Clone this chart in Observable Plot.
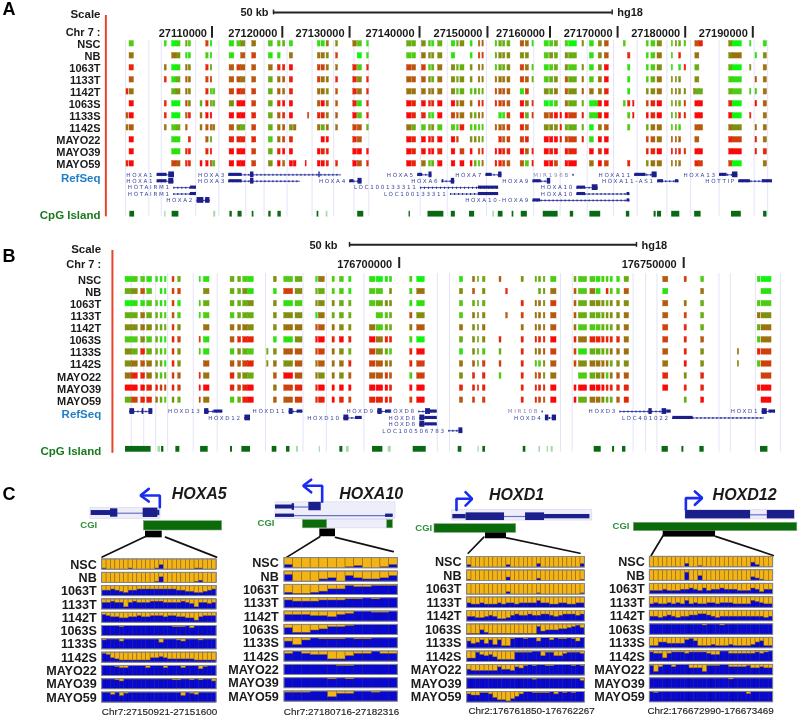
<!DOCTYPE html>
<html><head><meta charset="utf-8">
<script src="https://cdn.jsdelivr.net/npm/d3@7"></script>
<script src="https://cdn.jsdelivr.net/npm/@observablehq/plot@0.6"></script>
<style>
html,body{margin:0;padding:0;background:#fff}
#page{position:relative;width:800px;height:718px;overflow:hidden}
.gene text{letter-spacing:1.7px}
</style></head><body><div id="page"></div>
<script>
const samples=["NSC","NB","1063T","1133T","1142T","1063S","1133S","1142S","MAYO22","MAYO39","MAYO59"];

// Panel A: genomic positions in kb (chr7)
const ticksA=[27110,27120,27130,27140,27150,27160,27170,27180,27190];
const tickPosA=[27110,27120.4,27130.35,27140.7,27150.75,27160,27170,27180,27190];
const gridA=[27097.2,27100.66,27102.5,27107.6,27111,27115,27117.7,27121.1,27124.8,27128,27131,27133.2,27140.8,27144.8,27150.6,27157.6,27161.5,27165.5,27169.4,27172.9,27177.3,27180.8,27185,27190.2,27192.2];
const lociA=[[27097.35,27097.65],[27097.8,27098.45],[27103,27103.3],[27104.1,27104.75],[27104.75,27105.35],[27106.15,27106.4],[27106.55,27106.9],[27108.3,27108.6],[27109.15,27109.5],[27109.8,27110.05],[27110.15,27110.5],[27112.6,27113.3],[27113.75,27114.3],[27114.3,27114.95],[27115.95,27116.55],[27118.4,27119],[27119.75,27120.15],[27120.5,27120.85],[27121.5,27122],[27122.1,27122.5],[27123.85,27124],[27124.2,27124.4],[27125.65,27126.05],[27126.2,27126.7],[27126.95,27127.3],[27128.35,27128.65],[27130.9,27131.45],[27131.55,27132.2],[27132.95,27133.2],
[27138.85,27139.55],[27139.65,27140.2],[27141.05,27141.65],[27142.1,27142.4],[27142.55,27142.9],[27143.45,27144.1],[27145.45,27146],[27146.25,27146.5],[27146.75,27147.35],[27148.25,27148.55],[27148.85,27149.15],[27149.45,27149.7],[27150,27150.2],[27151.95,27152.2],[27152.5,27152.9],[27153.05,27153.4],[27153.7,27154.15],[27155.65,27156.2],[27156.4,27156.9],[27157.4,27157.6],[27159.2,27159.85],[27160,27160.5],[27160.7,27161.2],[27161.55,27161.8],[27162.3,27162.7],[27162.8,27164],[27164.8,27165.05],[27165.9,27166.5],[27166.5,27167.2],[27167.2,27167.7],[27168.1,27168.7],[27170.9,27171.2],[27171.55,27171.9],[27172.3,27172.5],[27174.3,27174.6],[27175,27175.6],[27175.9,27176.6],[27178,27178.2],[27178.6,27178.8],[27179.1,27179.4],[27179.9,27180.15],[27181.3,27181.5],[27181.5,27182.1],[27182.1,27182.65],[27186.5,27187],[27187,27188.4],[27189.6,27189.8],[27190.4,27190.65],[27191.6,27192.1]];
// methylation level per locus, 0 (green) to 9 (red), "." = no data
const methA=[
".2 1 01 32 . 71. 1 24 5 2 23 1. .. 115 4 52 1 33 4 21 3 134 1.56 2333 651 123. 20 4 1.46 2.. 224 2432 .68 40 1.1",
".5 . 54 11 . 21. 1 .6 7 1 1. 5. .. 554 7 .0 1 22 5 44 4 1.. 1.77 3444 44. 243. 43 . 1.46 .8. 125 2.8. .5. 45 .14",
".8 5 01 54 . 83. 6 76 6 5 88 9. .. 775 5 82 8 76 7 23 5 433 4.55 2334 752 123. 42 4 1.49 .1. 124 1.18 .3. 30 4.5",
".6 8 13 65 . 77. 6 65 6 3 56 8. .. 755 8 84 8 66 6 43 5 434 4.55 5555 763 234. 63 5 2.59 .1. 235 444. .4. 21 .65",
"85 . 34 54 . 822 7 87 7 3 65 8. .. 554 6 85 8 55 5 55 5 423 2333 7666 17. 435. 64 6 5.58 .1. 445 4544 533 32 225",
".9 8 00 74 3 833 4 99 7 3 89 9. .. 695 6 81 8 98 9 88 9 955 5.88 8776 957 002. 53 3 0199 289 789 3437 .99 80 .96",
"69 8 00 68 5 99. 9 99 8 3 68 9. .7 885 6 92 8 98 8 21 9 765 4355 .117 937 6799 97 8 1199 .29 989 3388 .99 90 8.5",
"56 5 23 6. 5 665 6 43 7 3 56 45 .. 535 5 76 3 53 2 34 2 228 2222 6667 86. 4448 33 3 0.56 .2. 355 232. .66 54 .55",
".9 . 11 .8 . 63. 8 88 8 2 57 8. .. .99 . 86 . 98 9 98 9 97. 4443 .867 78. 9998 77 8 1.99 ... 765 666. .6. 87 .85",
".9 . 11 88 . 88. 9 99 7 3 89 9. .. 988 . 99 9 98 9 99 8 9.7 9.78 9988 968 989. 98 . 9.89 ... 889 9888 .99 99 .88",
"89 . 76 88 9 963 9 99 7 4 95 99 9. 998 8 96 8 98 5 23 9 9.9 9325 9876 628 997. 99 . 5.97 .8. 455 555. .87 70 ..5"];
const genesA=[["HOXA1",0,27101.9,27104.45],["HOXA3",0,27112.5,27129.1],["HOXA5",0,27140.45,27142.55],["HOXA7",0,27150.55,27152.9],["MIR196B",0,27163.4,27163.6],["HOXA11",0,27172.55,27175.85],["HOXA13",0,27185.1,27187.8],
["HOXA1",1,27101.9,27104.35],["HOXA3",1,27112.5,27123.1],["HOXA4",1,27130.4,27132.2],["HOXA6",1,27144.05,27145.9],["HOXA9",1,27157.5,27160.1],["HOXA11-AS1",1,27175.95,27179.05],["HOTTIP",1,27187.95,27192.9],
["HOTAIRM1",2,27104.35,27107.7],["LOC100133311",2,27140.85,27152.4],["HOXA10",2,27164,27167.1],
["HOTAIRM1",3,27104.35,27107.7],["LOC100133311",3,27145.3,27152.4],["HOXA10",3,27164,27171.8],
["HOXA2",4,27107.8,27109.7],["HOXA10-HOXA9",4,27157.5,27171.8]];
const exonsA=[[0,27101.9,27103.35,0],[0,27103.6,27104.45,1],[0,27112.5,27114.45,0],[0,27115.7,27116.2,1],[0,27125.8,27126,1],[0,27140.45,27141.15,0],[0,27142.1,27142.55,1],[0,27150.55,27151.45,0],[0,27152.4,27152.9,1],[0,27172.55,27174.2,0],[0,27175.1,27175.85,1],[0,27185.1,27186.2,0],[0,27187,27187.8,1],
[1,27101.9,27103.35,0],[1,27103.6,27104.35,1],[1,27112.5,27114.45,0],[1,27115.7,27116.2,1],[1,27130.4,27131,0],[1,27131.6,27132.2,1],[1,27144.05,27144.3,0],[1,27145.4,27145.9,1],[1,27157.5,27158.7,0],[1,27159.6,27160.1,1],[1,27175.95,27176.8,0],[1,27178.55,27179.05,0],[1,27187.95,27189.65,0],[1,27191.4,27192.9,0],
[2,27106.8,27107.7,0],[2,27149.4,27152.4,0],[2,27164,27165.25,0],[2,27166.25,27167.1,1],
[3,27106.8,27107.7,0],[3,27149.4,27152.4,0],[3,27164,27165.25,0],[3,27171.4,27171.8,0],
[4,27107.8,27108.8,1],[4,27109.05,27109.7,1],[4,27157.5,27158.6,0],[4,27171.4,27171.8,0]];
const cpgA=[[27097.85,27098.55,1],[27103,27103.2,0],[27104.1,27105.1,1],[27110.25,27110.55,0],[27112.65,27113,1],[27113.85,27114.45,1],[27115.95,27116.2,1],[27118.4,27118.75,1],[27119.75,27120.25,1],[27125.55,27125.8,1],[27126.9,27127.15,0],[27131.55,27132.45,1],[27139.15,27139.35,1],[27141.95,27144.3,1],[27145.4,27146,1],[27148.1,27148.85,1],[27151.55,27151.8,0],[27152.35,27153.05,1],[27154.4,27154.65,1],[27155.75,27156.65,1],[27159,27161.2,1],[27163,27163.5,1],[27165.9,27167.5,1],[27171.3,27171.8,1],[27175.4,27175.7,1],[27175.9,27176.5,1],[27178,27179.2,1],[27181.4,27182.35,1],[27186.85,27188.3,1],[27191.6,27192.1,1]];

// Panel B: kb relative to 176,700,000
const ticksB=[0,50];
const gridB=[-47.1,-44.9,-42.8,-40.7,-36.2,-32,-23.5,-16.9,-12.8,-6.2,6.7,8.85,28.35,30.4,41.1,43.3,45.3,56.2,58.2,62.6,67];
const lociB=[[-48.1,-46.92],[-46.92,-45.93],[-45.34,-44.64],[-44.29,-43.41],[-42.71,-42.36],[-41.95,-41.59],[-41.18,-40.89],[-39.84,-39.48],[-38.84,-38.37],[-35.09,-34.86],[-34.33,-33.33],[-29.64,-28.94],[-28.3,-27.77],[-27.42,-26.6],[-26.6,-25.54],[-23.2,-22.96],[-22.03,-21.5],[-20.21,-18.63],[-18.22,-16.99],[-14.59,-14.29],[-14.12,-13.06],[-11.72,-11.31],[-10.43,-9.72],[-8.79,-8.38],[-5.16,-4.16],[-3.98,-2.81],[-2.4,-1.93],[-1.64,-1.23],[1.93,2.34],[3.16,4.51],[10.66,11.25],[12.95,13.36],[13.83,14.06],[14.7,15.17],[17.63,17.98],[18.8,19.1],[21.5,21.9],[23.96,24.25],[24.55,24.96],[25.4,25.7],[26.7,27.65],[30.8,31.17],[31.57,33.04],[33.6,34.5],[34.68,35.4],[35.68,36.1],[36.44,36.8],[37.14,37.55],[38.3,38.8],[39.6,40.4],[46.4,47.3],[50.15,50.56],[53.07,53.6],[59.5,59.75],[63,63.5],[63.67,65.44]];
const methB=[
"12 21 111 73 11 3 3 21 . 4 23 15 2 2 1 10 11 2 0 1 533 6 . 4 333 2 3 2 2 1221 1 3 6 7 2 . 1 0",
"34 62 .11 77 .4 3 3 41 . 1 74 33 2 2 1 22 .4 2 5 4 6.4 . 8 . .34 5 6 2 5 1.82 2 6 1 . 5 . . 1",
"01 12 211 71 23 3 3 34 . 4 12 44 4 3 3 23 44 1 1 2 333 . . 8 554 7 6 3 4 4434 4 4 6 5 3 . 2 2",
"33 53 322 62 12 2 3 33 . 4 44 15 3 3 3 .2 23 6 4 2 544 . 6 7 555 6 6 3 3 3344 4 5 6 7 3 . 5 4",
"44 54 433 74 .5 5 5 54 . 4 55 76 5 4 4 52 33 5 6 5 445 . . 5 555 6 5 2 2 2333 4 5 7 8 3 . 3 5",
"22 42 311 87 71 6 8 88 . 1 14 99 8 9 8 95 88 2 0 3 434 8 . 8 888 9 8 5 8 8888 8 5 7 8 6 . 2 5",
"43 83 322 74 21 2 4 32 3 4 66 77 5 4 3 74 32 8 9 1 432 3 . 8 557 7 7 1 3 3335 5 5 6 8 4 5 8 7",
"45 65 431 84 .6 6 6 78 4 5 46 56 5 5 8 76 55 8 7 5 637 7 . 8 224 6 7 4 5 5553 4 4 5 9 4 4 2 7",
"58 85 423 76 85 8 4 43 . 6 96 54 5 4 6 66 76 2 7 4 8.8 2 . 8 674 5 . 2 3 4525 6 6 8 4 8 . . 7",
"99 98 877 87 99 8 7 89 . 5 78 89 9 9 9 99 98 9 9 8 888 . . 8 888 9 9 9 9 9988 8 8 9 8 8 . 8 9",
"37 88 532 43 75 2 3 89 . 6 67 88 9 8 7 88 88 7 9 6 7.7 . . 8 876 9 9 3 5 5433 6 8 . 3 9 . . 9"];
const genesB=[["",0,-47.33,-43.3],["HOXD13",0,-34.2,-31],["HOXD12",1,-27.12,-26.13],["HOXD11",0,-19.33,-16.93],["HOXD10",1,-9.72,-6.5],["HOXD9",0,-3.75,-1.41],["HOXD8",0,3.46,6.68],["HOXD8",1,3.63,6.68],["HOXD8",2,3.63,6.68],["LOC100506783",3,8.73,11.19],["MIR10B",0,25.13,25.3],["HOXD4",1,25.7,27.65],["HOXD3",0,38.8,47.8],["LOC401022",1,48.1,64.2],["HOXD1",0,63.8,66.14]];
const exonsB=[[0,-47.33,-46.5,1],[0,-45.17,-44.87,1],[0,-44,-43.3,1],[0,-34.2,-33.45,1],[0,-32.57,-31,0],[1,-27.12,-26.13,1],[0,-19.33,-18.63,1],[0,-17.93,-16.93,0],[1,-9.72,-8.85,1],[1,-7.67,-6.5,0],[0,-3.75,-2.99,1],[0,-2.4,-1.41,0],[0,4.63,5.5,1],[0,5.5,6.68,0],[1,3.63,4.5,1],[1,4.5,6.68,0],[2,3.63,4.5,1],[2,4.5,6.68,0],[3,10.49,11.19,1],[1,25.7,26.3,1],[1,26.9,27.65,1],[0,43.88,44.47,1],[0,46.2,47,1],[0,47,47.8,0],[1,48.1,51.67,0],[0,63.8,64.68,1],[0,64.97,66.14,0]];
const cpgB=[[-48.1,-43.6,1],[-42.4,-41.95,0],[-41.77,-41.36,1],[-39.25,-38.55,1],[-34.9,-33.57,1],[-29.64,-29.3,1],[-27.65,-26.13,1],[-22.32,-21.5,1],[-19.8,-19.2,1],[-18.04,-17.7,0],[-14.06,-13.83,0],[-10.43,-9.9,1],[-9.26,-8.79,0],[-4.69,-2.87,1],[-1.93,-1.4,0],[2.46,4.75,1],[10.37,11.01,1],[13.83,14.06,0],[14.7,15.17,1],[21.8,22.26,1],[24.55,24.84,0],[26,26.25,0],[26.7,27.07,0],[34.27,35.5,1],[37.5,37.85,1],[39.25,39.84,1],[46.2,47.3,1],[49.68,50.03,1],[52.84,53.6,1],[63.5,64.8,1]];

// Panel C: per-site methylation level, 0 (blue) to 9 (all orange)
const sitesHOXA5=["89999989999985999999988999","99999999999984999999987999","44345644333333333445566543","33233732333222333323473343","23445544344333433445574333","00001000000000001110200000","10002000000003000120001000","12567777777554566666677777","00012200002000200020003100","00012000000000001100101002","00203100000000000030120000"];
const sitesHOXA10=["6999999879986","3999769467764","7887644122111","2333222110100","3334453200110","3775422100000","3620111011000","2023377422022","0000001100000","0000010100000","1110052200100"];
const sitesHOXD1=["799999999799999969999999996","899999999699999979999999998","999999999799999989999999998","566566656556555535566556655","556654577643443443345433343","888578888888888826555443213","354252627710010030020110130","661343577771111004114421112","455555524452310100110000101","000000000000000100000000002","233112577864200111102010100"];
const sitesHOXD12=["9999999969989999999999957999","9999999929959999999999967899","6665666554564655455566645755","6566565636566556555666634566","5565456554433456555555555565","0000000000001000100000000000","7744555521377767776777764377","1226211121111233002222221210","1620020003336111002222133233","0000000000000000001000000000","0100000000000000000000200000"];
const rangesC=["Chr7:27150921-27151600","Chr7:27180716-27182316","Chr2:176761850-176762267","Chr2:176672990-176673469"];
const titlesC=["HOXA5","HOXA10","HOXD1","HOXD12"];

const FONT="'Liberation Sans',Arial,sans-serif", NAVY="#1a1f8c", GRID="#e4e4f8";
const methColor=d3.scaleLinear().domain([0,2,4.5,7,9]).range(["#10f510","#4ecb12","#8f7f10","#d0400c","#fb0808"]);
const clean=s=>s.replace(/\s/g,"");

function mount(plot){document.getElementById("page").appendChild(plot);}

function track(c){
  const kbPx=c.kbPx, x0=c.originKb-c.originPx/kbPx;
  const cells=[];
  c.meth.forEach((s,r)=>{[...clean(s)].forEach((ch,i)=>{if(ch!=="."&&c.loci[i])cells.push({r,a:c.loci[i][0],b:c.loci[i][1],v:+ch});});});
  const gy=r=>c.geneY+r*c.geneStep;
  const exons=c.exons.map(e=>({y:gy(e[0]),a:e[1],b:e[2],t:e[3]}));
  const T=(t,o)=>Plot.text([t],{frameAnchor:"left",text:d=>d,textAnchor:"end",fontWeight:"bold",fontSize:11.5,fill:"#1a1a1a",...o});
  mount(Plot.plot({width:800,height:c.h,margin:0,
    style:{position:"absolute",left:0,top:c.top+"px",fontFamily:FONT,background:"transparent",filter:"blur(0.4px)",overflow:"visible"},
    x:{domain:[x0,x0+800/kbPx],range:[0,800],axis:null},
    y:{domain:[-c.y0/c.dy,(c.h-c.y0)/c.dy],range:[0,c.h],axis:null},
    color:{type:"identity"},
    marks:[
      Plot.ruleX(c.grid,{x:d=>d,y1:c.gridY[0],y2:c.gridY[1],stroke:GRID,strokeWidth:1}),
      Plot.rect(cells,{x1:"a",x2:"b",y1:d=>d.r-.23,y2:d=>d.r+.23,fill:d=>methColor(d.v),stroke:d=>methColor(d.v),strokeWidth:.4}),
      Plot.ruleY(c.genes,{x1:d=>d[2],x2:d=>d[3],y:d=>gy(d[1]),stroke:"#3a44b0",strokeWidth:.9}),
      Plot.ruleY(c.genes,{x1:d=>d[2],x2:d=>d[3],y:d=>gy(d[1]),stroke:NAVY,strokeWidth:2,strokeDasharray:"1 3"}),
      Plot.rect(exons,{x1:"a",x2:"b",y1:d=>d.y-(d.t?.24:.13),y2:d=>d.y+(d.t?.24:.13),fill:NAVY}),
      Plot.text(c.genes.filter(g=>g[0]),{x:d=>d[2],y:d=>gy(d[1]),text:d=>d[0],dx:-3,textAnchor:"end",fontSize:5.6,fontFamily:"'DejaVu Sans',sans-serif",className:"gene",fill:d=>d[0].startsWith("MIR")?"#8a8ac4":"#3a3f9c"}),
      Plot.rect(c.cpg,{x1:d=>d[0],x2:d=>d[1],y1:c.cpgY-.24,y2:c.cpgY+.24,fill:d=>d[2]?"#0a6a14":"#a5dca5"}),
      Plot.ruleX([c.redX],{x:d=>d,y1:c.redY[0],y2:c.redY[1],stroke:"#e8432c",strokeWidth:2}),
      Plot.ruleX(c.tickPos,{x:d=>d,y1:c.tickY[0],y2:c.tickY[1],stroke:"#222",strokeWidth:2}),
      Plot.text(c.tickPos,{x:d=>d,y:c.tickLabelY,text:(d,i)=>c.tickLabels[i],dx:c.tickDx,textAnchor:"end",fontWeight:"bold",fontSize:11,fill:"#1a1a1a"}),
      Plot.ruleY([c.barY],{x1:c.bar[0],x2:c.bar[1],y:d=>d,stroke:"#222",strokeWidth:2}),
      Plot.ruleX(c.bar,{x:d=>d,y1:c.barY-.2,y2:c.barY+.2,stroke:"#222",strokeWidth:1.5}),
      Plot.text(["50 kb"],{x:c.bar[0],y:c.barY+.03,text:d=>d,dx:c.kbDx,textAnchor:"end",fontWeight:"bold",fontSize:11,fill:"#1a1a1a"}),
      Plot.text(["hg18"],{x:c.bar[1],y:c.barY+.03,text:d=>d,dx:5,textAnchor:"start",fontWeight:"bold",fontSize:11,fill:"#1a1a1a"}),
      Plot.text(samples,{y:(d,i)=>i+.08,text:d=>d,frameAnchor:"left",dx:c.labelX,textAnchor:"end",fontWeight:"bold",fontSize:11,fill:"#1a1a1a"}),
      T("Scale",{y:c.scaleY,dx:c.labelX}),
      T("Chr 7 :",{y:c.chrY,dx:c.labelX,fontSize:11}),
      T("RefSeq",{y:c.refY,dx:c.labelX,fill:"#1f7fc4"}),
      T("CpG Island",{y:c.cpgLabelY,dx:c.labelX,fill:"#187a1e"}),
      Plot.text([c.letter],{frameAnchor:"left",y:c.letterY,dx:2,text:d=>d,textAnchor:"start",fontWeight:"bold",fontSize:18,fontFamily:"'Liberation Sans',sans-serif",fill:"#000"})
    ]}));
}

track({top:0,h:230,kbPx:6.76,originKb:27110,originPx:211.5,y0:43.3,dy:12,meth:methA,loci:lociA,genes:genesA,exons:exonsA,cpg:cpgA,grid:gridA,
  tickPos:tickPosA,tickLabels:ticksA.map(k=>String(k*1000)),tickDx:-5,gridY:[-.28,14.4],redX:27094.3,redY:[-2.36,14.42],tickY:[-1.44,-.47],tickLabelY:-.86,
  bar:[27119.1,27169.2],barY:-2.61,kbDx:-5,geneY:10.92,geneStep:.533,cpgY:14.2,labelX:100,scaleY:-2.42,chrY:-.92,refY:11.2,cpgLabelY:14.3,letter:"A",letterY:-2.85});
track({top:230,h:240,kbPx:5.69,originKb:0,originPx:398.7,y0:49,dy:12.07,meth:methB,loci:lociB,genes:genesB,exons:exonsB,cpg:cpgB,grid:gridB,
  tickPos:ticksB,tickLabels:ticksB.map(k=>String(176700000+k*1000)),tickDx:-7,gridY:[-.5,14.3],redX:-50.4,redY:[-2.4,14.4],tickY:[-1.82,-.91],tickLabelY:-1.22,
  bar:[-8.73,41.7],barY:-2.87,kbDx:-12,geneY:10.94,geneStep:.53,cpgY:14.07,labelX:100.7,scaleY:-2.46,chrY:-1.22,refY:11.18,cpgLabelY:14.25,letter:"B",letterY:-1.9});

// schematics in (site column, row) units of each small panel
const schemes=[
 {left:101.67,w:4.4,y0:84,dy:13.3,h:.76,labelX:96.3,sites:sitesHOXA5,cgiX:96.7,cgiY:-2.56,titleX:22.05,titleY:-4.94,rangeX:13.03,rangeY:11.43,
  faint:[[-2.65,13.26,-3.88,-3.06]],
  intron:[[3.41,9.47,-3.48]],
  gene:[[-2.5,3.41,-3.68,-3.31],[1.89,3.56,-3.81,-3.18],[9.32,12.65,-3.86,-3.16],[12.6,13.1,-3.7,-3.3]],
  cgi:[[9.47,27.27,-2.88,-2.18]],box:[9.85,13.64,-2.13,-1.63],
  links:[[[9.85,-1.73],[0,-.18]],[[14.39,-1.68],[25.98,-.18]]],
  arrow:[[13.1,-3.93],[13.1,-4.81],[9.1,-4.81]],head:[[10.6,-5.31],[8.7,-4.81],[10.6,-4.36]]},
 {left:284,w:8.72,y0:82.7,dy:13.33,h:.76,labelX:278.3,sites:sitesHOXA10,cgiX:274,cgiY:-2.61,titleX:9.94,titleY:-4.81,rangeX:6.54,rangeY:11.51,
  faint:[[-1.03,12.73,-4.19,-2.94],[4.89,11.78,-2.86,-2.24]],
  intron:[[1.15,2.79,-3.84],[1.15,11.59,-3.19]],
  gene:[[-1.03,1.07,-3.99,-3.69],[.88,1.15,-4.09,-3.59],[2.79,4.21,-4.19,-3.56],[-1.03,1.15,-3.31,-3.06],[11.59,12.47,-3.31,-3.06]],
  cgi:[[2.1,4.89,-2.86,-2.24],[11.78,12.43,-2.86,-2.24]],box:[4.05,5.85,-2.19,-1.61],
  links:[[[4.05,-1.61],[.23,-.06]],[[5.85,-1.56],[12.47,-.49]]],
  arrow:[[4.32,-4.24],[4.32,-5.44],[2.29,-5.44]],head:[[3.06,-5.89],[2.14,-5.44],[3.06,-4.94]]},
 {left:466.67,w:4.36,y0:81.5,dy:13.5,h:.78,labelX:461,sites:sitesHOXD1,cgiX:431.7,cgiY:-2.16,titleX:11.32,titleY:-4.6,rangeX:14.77,rangeY:11.37,
  faint:[[-3.44,28.69,-3.49,-2.7]],
  intron:[[8.57,13.39,-3]],
  gene:[[-3.29,-.23,-3.15,-2.83],[17.75,28.16,-3.15,-2.83],[-.23,8.57,-3.27,-2.7],[13.39,17.75,-3.27,-2.7]],
  cgi:[[-7.5,11.25,-2.43,-1.79]],box:[4.21,9.03,-1.79,-1.35],
  links:[[[3.83,-1.47],[.23,-.28]],[[9.03,-1.42],[25.86,-.28]]],
  arrow:[[-2.45,-3.49],[-2.45,-4.31],[.92,-4.31]],head:[[-.38,-4.8],[1.15,-4.31],[-.38,-3.81]]},
 {left:649.33,w:4.405,y0:81.3,dy:13.5,h:.78,labelX:644.3,sites:sitesHOXD12,cgiX:629,cgiY:-2.25,titleX:21.52,titleY:-4.59,rangeX:13.79,rangeY:11.38,
  faint:[[8.11,32.88,-3.48,-2.77]],
  intron:[[22.88,26.67,-3.11]],
  gene:[[8.11,22.88,-3.43,-2.81],[26.67,32.88,-3.43,-2.81]],
  cgi:[[-3.64,33.48,-2.52,-1.9]],box:[3.03,14.92,-1.9,-1.46],
  links:[[[3.03,-1.58],[.3,-.1]],[[14.92,-1.51],[28.03,-.1]]],
  arrow:[[8.18,-3.48],[8.18,-4.35],[11.52,-4.35]],head:[[10.23,-4.84],[11.89,-4.35],[10.23,-3.85]]}
];

schemes.forEach((c,k)=>{
  const cells=[];
  c.sites.forEach((s,r)=>{[...s].forEach((ch,i)=>cells.push({r,i,f:+ch/9}));});
  const n=c.sites[0].length, H=243;
  const R=(arr,fill,extra={})=>Plot.rect(arr,{x1:d=>d[0],x2:d=>d[1],y1:d=>d[2],y2:d=>d[3],fill,...extra});
  mount(Plot.plot({width:800,height:H,margin:0,
    style:{position:"absolute",left:0,top:"475px",fontFamily:FONT,background:"transparent",filter:"blur(0.3px)",overflow:"visible"},
    x:{domain:[-c.left/c.w,(800-c.left)/c.w],range:[0,800],axis:null},
    y:{domain:[-c.y0/c.dy,(H-c.y0)/c.dy],range:[0,H],axis:null},
    marks:[
      R(c.faint,"#eeeefb",{stroke:"#d8d8ee",strokeWidth:.7}),
      Plot.ruleY(c.intron,{x1:d=>d[0],x2:d=>d[1],y:d=>d[2],stroke:"#6a70c8",strokeWidth:1.2}),
      R(c.gene,NAVY),
      R(c.cgi,"#0b6b0b",{stroke:"#7fa87f",strokeWidth:.6}),
      R([c.box],"#000"),
      ...c.links.map(l=>Plot.line(l,{x:"0",y:"1",stroke:"#111",strokeWidth:1.7})),
      Plot.line(c.arrow,{x:"0",y:"1",stroke:"#1a2cf0",strokeWidth:2.6,strokeLinejoin:"miter"}),
      Plot.line(c.head,{x:"0",y:"1",stroke:"#1a2cf0",strokeWidth:2.6,strokeLinejoin:"miter"}),
      Plot.text(["CGI"],{frameAnchor:"left",dx:c.cgiX,y:c.cgiY,text:d=>d,textAnchor:"end",fontSize:9.5,fontWeight:"bold",fill:"#2f8f3c"}),
      Plot.text([titlesC[k]],{x:c.titleX,y:c.titleY,text:d=>d,fontSize:16,fontWeight:"bold",fontStyle:"italic",fill:"#1a1a1a"}),
      Plot.rect(cells,{x1:"i",x2:d=>d.i+1,y1:"r",y2:d=>d.r+c.h,fill:"#0808d0",stroke:"#06067a",strokeWidth:.4}),
      Plot.rect(cells.filter(d=>d.f>0),{x1:"i",x2:d=>d.i+1,y1:"r",y2:d=>d.r+c.h*d.f,fill:"#f4b416",stroke:"#8a6a10",strokeWidth:.5}),
      Plot.rect(c.sites.map((s,r)=>r),{x1:0,x2:n,y1:d=>d,y2:d=>d+c.h,fill:"none",stroke:"#8a8a8a",strokeWidth:1}),
      Plot.text(samples,{y:(d,i)=>i+c.h/2,text:d=>d,frameAnchor:"left",dx:c.labelX,textAnchor:"end",fontWeight:"bold",fontSize:12.6,fill:"#1a1a1a"}),
      Plot.text([rangesC[k]],{x:c.rangeX,y:c.rangeY,text:d=>d,fontSize:9.9,fill:"#222",stroke:"#222",strokeWidth:.15})
    ].concat(k===0?[Plot.text(["C"],{frameAnchor:"left",dx:2,y:-4.94,text:d=>d,textAnchor:"start",fontWeight:"bold",fontSize:18,fill:"#000"})]:[])
  }));
});
</script></body></html>
